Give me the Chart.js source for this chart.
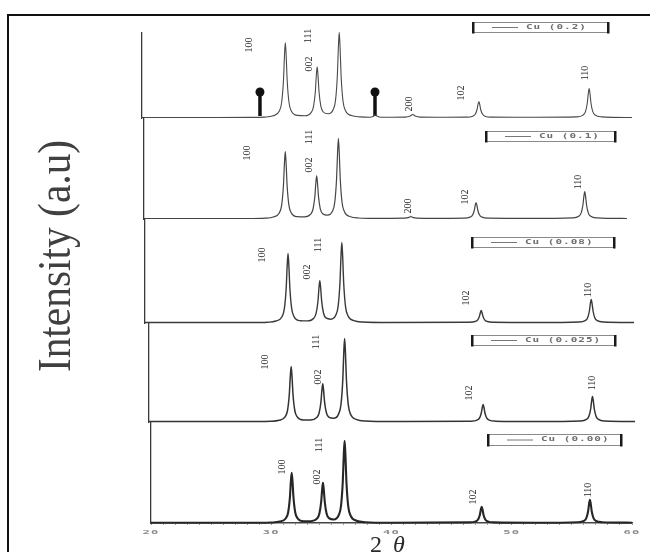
<!DOCTYPE html>
<html>
<head>
<meta charset="utf-8">
<script src="https://cdn.jsdelivr.net/npm/chart.js@4"></script>
<style>
  html, body { margin: 0; padding: 0; background: #fff; }
  #fig { position: relative; width: 650px; height: 552px; overflow: hidden; background: #fff; }
  #frame { position: absolute; left: 7px; top: 14px; width: 700px; height: 600px;
           border-left: 2.5px solid #111; border-top: 2.5px solid #111; }
  #fig canvas { position: absolute; left: 0; top: 0; }
</style>
</head>
<body>
<div id="fig"><div id="frame"></div></div>
<script>
// XRD patterns of Cu-doped ZnO, intensity in arbitrary units vs 2θ (degrees)
const sampleNames = ['Cu (0.2)', 'Cu (0.1)', 'Cu (0.08)', 'Cu (0.025)', 'Cu (0.00)'];
const xTicks = [20, 30, 40, 50, 60];

const cu020 = [[20,0.5],[26,0.5],[29,0.6],[30,0.9],[30.7,2.2],[31.2,6.7],[31.4,15.5],[31.55,38],[31.63,62],[31.7,75.5],[31.77,62],[31.85,38],[32,15.5],[32.2,6.7],[32.7,2.6],[33.3,2.3],
  [33.8,5.4],[34,11.4],[34.15,26.3],[34.23,42.3],[34.3,51.3],[34.37,42.4],[34.45,26.5],[34.6,11.8],[34.8,6],[35.2,4.2],
  [35.6,8.2],[35.8,17.9],[35.95,43.3],[36.03,70.5],[36.1,85.7],[36.17,70.3],[36.25,43.2],[36.4,17.7],[36.6,7.6],[37.1,2.4],[37.8,1.1],
  [38.6,0.8],[38.9,1.8],[39.04,3],[39.2,1.8],[39.5,0.8],[40.5,0.8],
  [41.5,0.9],[41.9,2],[42.1,3.5],[42.3,2],[42.7,0.9],[44,0.8],
  [46.5,0.85],[47,1.85],[47.2,3.7],[47.35,8.5],[47.43,13.6],[47.5,16.5],[47.57,13.6],[47.65,8.5],[47.8,3.7],[48,1.85],[48.5,0.85],[52,0.8],
  [55.5,1.15],[56,2.9],[56.2,6.3],[56.35,15],[56.43,24.3],[56.5,29.5],[56.57,24.3],[56.65,15],[56.8,6.3],[57,2.9],[57.5,1.15],[60,0.5]];

const cu010 = [[20,0.5],[29,0.5],[30,0.8],[30.7,2],[31.2,6.1],[31.4,13.9],[31.55,34],[31.63,55.4],[31.7,67.5],[31.77,55.4],[31.85,34],[32,13.9],[32.2,6.1],[32.7,2.3],[33.3,2.1],
  [33.8,4.8],[34,10],[34.15,22.5],[34.23,35.8],[34.3,43.2],[34.37,35.8],[34.45,22.6],[34.6,10.2],[34.8,5.2],[35.2,3.8],
  [35.6,7.7],[35.8,16.9],[35.95,40.8],[36.03,66.3],[36.1,80.6],[36.17,66.2],[36.25,40.7],[36.4,16.7],[36.6,7.3],[37.1,2.3],[37.8,1],[39,0.6],
  [41.6,0.8],[41.95,1.6],[42.1,2.5],[42.25,1.6],[42.6,0.8],[44,0.6],
  [46.5,0.85],[47,1.85],[47.2,3.7],[47.35,8.5],[47.43,13.6],[47.5,16.5],[47.57,13.6],[47.65,8.5],[47.8,3.7],[48,1.85],[48.5,0.85],[52,0.6],
  [55.5,1.1],[56,2.7],[56.2,5.9],[56.35,14],[56.43,22.6],[56.5,27.5],[56.57,22.6],[56.65,14],[56.8,5.9],[57,2.7],[57.5,1.1],[60,0.5]];

const cu008 = [[20,0.5],[29,0.5],[30,0.8],[30.7,2],[31.2,6.2],[31.4,14.3],[31.55,35],[31.63,57.1],[31.7,69.5],[31.77,57.1],[31.85,35],[32,14.3],[32.2,6.2],[32.7,2.3],[33.3,2.1],
  [33.8,4.7],[34,9.8],[34.15,22],[34.23,35],[34.3,42.2],[34.37,35],[34.45,22.1],[34.6,10],[34.8,5.1],[35.2,3.8],
  [35.6,7.7],[35.8,16.9],[35.95,40.8],[36.03,66.3],[36.1,80.6],[36.17,66.2],[36.25,40.7],[36.4,16.7],[36.6,7.3],[37.1,2.3],[37.8,1],[40,0.5],
  [46.5,0.76],[47,1.5],[47.2,2.9],[47.35,6.5],[47.43,10.3],[47.5,12.5],[47.57,10.3],[47.65,6.5],[47.8,2.9],[48,1.5],[48.5,0.76],[52,0.5],
  [55.5,1],[56,2.4],[56.2,5.1],[56.35,12],[56.43,19.4],[56.5,23.5],[56.57,19.4],[56.65,12],[56.8,5.1],[57,2.4],[57.5,1],[60,0.5]];

const cu0025 = [[20,0.5],[29,0.5],[30,0.7],[30.7,1.7],[31.2,5.1],[31.4,11.5],[31.55,28],[31.63,45.6],[31.7,55.5],[31.77,45.6],[31.85,28],[32,11.5],[32.2,5.1],[32.7,2],[33.3,1.9],
  [33.8,4.4],[34,9],[34.15,20],[34.23,31.6],[34.3,38.2],[34.37,31.6],[34.45,20.1],[34.6,9.2],[34.8,4.8],[35.2,3.7],
  [35.6,7.9],[35.8,17.5],[35.95,42.3],[36.03,68.8],[36.1,83.6],[36.17,68.7],[36.25,42.2],[36.4,17.3],[36.6,7.5],[37.1,2.4],[37.8,1],[40,0.5],
  [46.5,0.87],[47,1.9],[47.2,3.9],[47.35,9],[47.43,14.4],[47.5,17.5],[47.57,14.4],[47.65,9],[47.8,3.9],[48,1.9],[48.5,0.87],[52,0.5],
  [55.5,1.05],[56,2.6],[56.2,5.5],[56.35,13],[56.43,21],[56.5,25.5],[56.57,21],[56.65,13],[56.8,5.5],[57,2.6],[57.5,1.05],[60,0.5]];

const cu000 = [[20,0.3],[29,0.3],[30,0.5],[30.7,1.4],[31.2,4.5],[31.4,10.3],[31.55,25.3],[31.63,41.3],[31.7,50.3],[31.77,41.3],[31.85,25.3],[32,10.3],[32.2,4.5],[32.7,1.7],[33.3,1.8],
  [33.8,4.4],[34,9.3],[34.15,21],[34.23,33.2],[34.3,40.2],[34.37,33.2],[34.45,21.1],[34.6,9.5],[34.8,4.9],[35.2,3.5],
  [35.6,7.6],[35.8,17],[35.95,41.6],[36.03,67.7],[36.1,82.3],[36.17,67.6],[36.25,41.5],[36.4,16.9],[36.6,7.3],[37.1,2.2],[37.8,0.8],[40,0.3],
  [46.5,0.65],[47,1.65],[47.2,3.5],[47.35,8.3],[47.43,13.4],[47.5,16.3],[47.57,13.4],[47.65,8.3],[47.8,3.5],[48,1.65],[48.5,0.65],[52,0.3],
  [55.5,0.8],[56,2.2],[56.2,4.9],[56.35,11.8],[56.43,19.2],[56.5,23.3],[56.57,19.2],[56.65,11.8],[56.8,4.9],[57,2.2],[57.5,0.8],[60,0.3]];

// Miller-index annotations: [label, 2θ, intensity] at the label centre
const hklCu020 = [['100',28.8,73],['111',33.6,82],['002',33.7,54],['200',41.8,14],['102',46.1,25],['110',56.2,45]];
const hklCu010 = [['100',28.6,66],['111',33.7,82],['002',33.7,54],['200',41.9,13],['102',46.6,22],['110',56.0,37]];
const hklCu008 = [['100',29.6,68],['002',33.25,51],['111',34.15,78],['102',46.3,25],['110',56.3,33]];
const hklCu0025 = [['100',29.55,60],['002',33.9,45],['111',33.8,80],['102',46.4,29],['110',56.5,39]];
const hklCu000 = [['100',30.95,56],['002',33.85,46],['111',34.0,78],['102',46.8,26],['110',56.35,33]];

// secondary-phase markers on the Cu (0.2) pattern
const markerTheta = [29.63, 39.02];
const markerBase = 2;
const markerTop = 26;

const spectra = [cu020, cu010, cu008, cu0025, cu000];
const hklSets = [hklCu020, hklCu010, hklCu008, hklCu0025, hklCu000];

// plot boxes (pixels) for the five stacked panels
const boxes = [
  { left: 142, right: 632, top: 33,  bottom: 118 },
  { left: 144, right: 627, top: 118, bottom: 219 },
  { left: 145, right: 634, top: 219, bottom: 323 },
  { left: 149, right: 635, top: 323, bottom: 422 },
  { left: 151, right: 632, top: 422, bottom: 523 }
];
const keyBoxes = [
  { x0: 473, x1: 608, y0: 22,  y1: 32 },
  { x0: 486, x1: 615, y0: 131, y1: 141 },
  { x0: 472, x1: 614, y0: 237, y1: 247 },
  { x0: 472, x1: 615, y0: 335, y1: 345 },
  { x0: 488, x1: 621, y0: 434, y1: 445 }
];
const lineWidths = [1.1, 1.2, 1.4, 1.5, 2.1];
const lineColors = ['#4a4a4a', '#454545', '#3a3a3a', '#333333', '#262626'];

function drawKey(ctx, k, text) {
  const ym = (k.y0 + k.y1) / 2;
  ctx.save();
  ctx.strokeStyle = '#8a8a8a';
  ctx.lineWidth = 1;
  ctx.strokeRect(k.x0 + 0.5, k.y0 + 0.5, k.x1 - k.x0, k.y1 - k.y0);
  ctx.fillStyle = '#1a1a1a';
  ctx.fillRect(k.x0 - 1, k.y0, 2.5, k.y1 - k.y0 + 1.5);
  ctx.fillRect(k.x1 - 1, k.y0, 2.5, k.y1 - k.y0 + 1.5);
  ctx.strokeStyle = '#777';
  ctx.lineWidth = 1;
  ctx.beginPath();
  ctx.moveTo(k.x0 + 19, ym + 0.5);
  ctx.lineTo(k.x0 + 45, ym + 0.5);
  ctx.stroke();
  ctx.translate(k.x0 + 53, ym);
  ctx.scale(1, 0.6);
  ctx.font = 'bold 11px "DejaVu Sans Mono"';
  ctx.letterSpacing = '1px';
  ctx.fillStyle = '#6f6f6f';
  ctx.textAlign = 'left';
  ctx.textBaseline = 'middle';
  ctx.fillText(text, 0, 0);
  ctx.restore();
}

const decorations = {
  id: 'decorations',
  afterDatasetsDraw(chart, args, opts) {
    const { ctx, scales: { x, y } } = chart;
    ctx.save();
    ctx.fillStyle = '#222';
    ctx.font = '10px "Liberation Serif"';
    ctx.textAlign = 'center';
    ctx.textBaseline = 'middle';
    for (const [txt, t, v] of opts.hkl) {
      ctx.save();
      ctx.translate(x.getPixelForValue(t), y.getPixelForValue(v));
      ctx.rotate(-Math.PI / 2);
      ctx.fillText(txt, 0, 0);
      ctx.restore();
    }
    ctx.restore();
    drawKey(ctx, opts.key, opts.name);
    if (opts.bottom) {
      // squat tick numbers under the 2θ axis
      ctx.save();
      ctx.fillStyle = '#8a8a8a';
      ctx.font = 'bold 11px "DejaVu Sans Mono"';
      ctx.letterSpacing = '1px';
      ctx.textAlign = 'center';
      ctx.textBaseline = 'middle';
      for (const t of xTicks) {
        ctx.save();
        ctx.translate(x.getPixelForValue(t), 533);
        ctx.scale(1.1, 0.5);
        ctx.fillText(String(t), 0, 0);
        ctx.restore();
      }
      ctx.restore();
      // axis titles
      ctx.save();
      ctx.fillStyle = '#2b2b2b';
      ctx.font = '24px "Liberation Serif"';
      ctx.textAlign = 'center';
      ctx.textBaseline = 'alphabetic';
      ctx.fillText('2', 376, 552);
      ctx.font = 'italic 24px "Liberation Serif"';
      ctx.fillText('θ', 399, 552);
      ctx.restore();
      ctx.save();
      ctx.fillStyle = '#404040';
      ctx.translate(70, 256);
      ctx.rotate(-Math.PI / 2);
      ctx.scale(0.9, 1);
      ctx.font = '46px "Liberation Serif"';
      ctx.textAlign = 'center';
      ctx.textBaseline = 'alphabetic';
      ctx.fillText('Intensity (a.u)', 0, 0);
      ctx.restore();
    }
  }
};

const fig = document.getElementById('fig');
spectra.forEach((pts, i) => {
  const b = boxes[i];
  const isBottom = i === spectra.length - 1;
  const canvas = document.createElement('canvas');
  canvas.width = 650; canvas.height = 552;
  fig.appendChild(canvas);

  const datasets = [{
    label: sampleNames[i],
    data: pts.map(([t, v]) => ({ x: t, y: v })),
    borderColor: lineColors[i],
    borderWidth: lineWidths[i],
    pointRadius: 0,
    cubicInterpolationMode: 'monotone',
    clip: false
  }];
  if (i === 0) {
    markerTheta.forEach(t => datasets.push({
      label: 'marker',
      data: [{ x: t, y: markerBase }, { x: t, y: markerTop }],
      borderColor: '#111',
      borderWidth: 3.5,
      borderCapStyle: 'butt',
      pointRadius: [0, 4.5],
      pointBackgroundColor: '#111',
      pointBorderWidth: 0,
      clip: false
    }));
  }

  const xScale = {
    type: 'linear', min: 20, max: 60,
    display: isBottom,
    ticks: { display: false, stepSize: 1 },
    grid: { display: true, drawOnChartArea: false, drawTicks: true, tickLength: 2, color: '#9a9a9a', lineWidth: 1 },
    border: { display: true, color: '#444', width: 1.6 }
  };
  if (isBottom) xScale.afterFit = s => { s.height = 552 - b.bottom; };

  new Chart(canvas, {
    type: 'line',
    data: { datasets },
    options: {
      responsive: false,
      animation: false,
      devicePixelRatio: 1,
      layout: { padding: { left: b.left, right: 650 - b.right, top: b.top, bottom: isBottom ? 0 : 552 - b.bottom } },
      plugins: {
        legend: { display: false },
        tooltip: { enabled: false },
        decorations: { hkl: hklSets[i], key: keyBoxes[i], name: sampleNames[i], bottom: isBottom }
      },
      scales: {
        x: xScale,
        y: {
          type: 'linear', min: 0, max: b.bottom - b.top,
          display: true,
          ticks: { display: false },
          grid: { display: false, drawTicks: false },
          border: { display: true, color: '#3a3a3a', width: 1.3 }
        }
      }
    },
    plugins: [decorations]
  });
});
</script>
</body>
</html>
